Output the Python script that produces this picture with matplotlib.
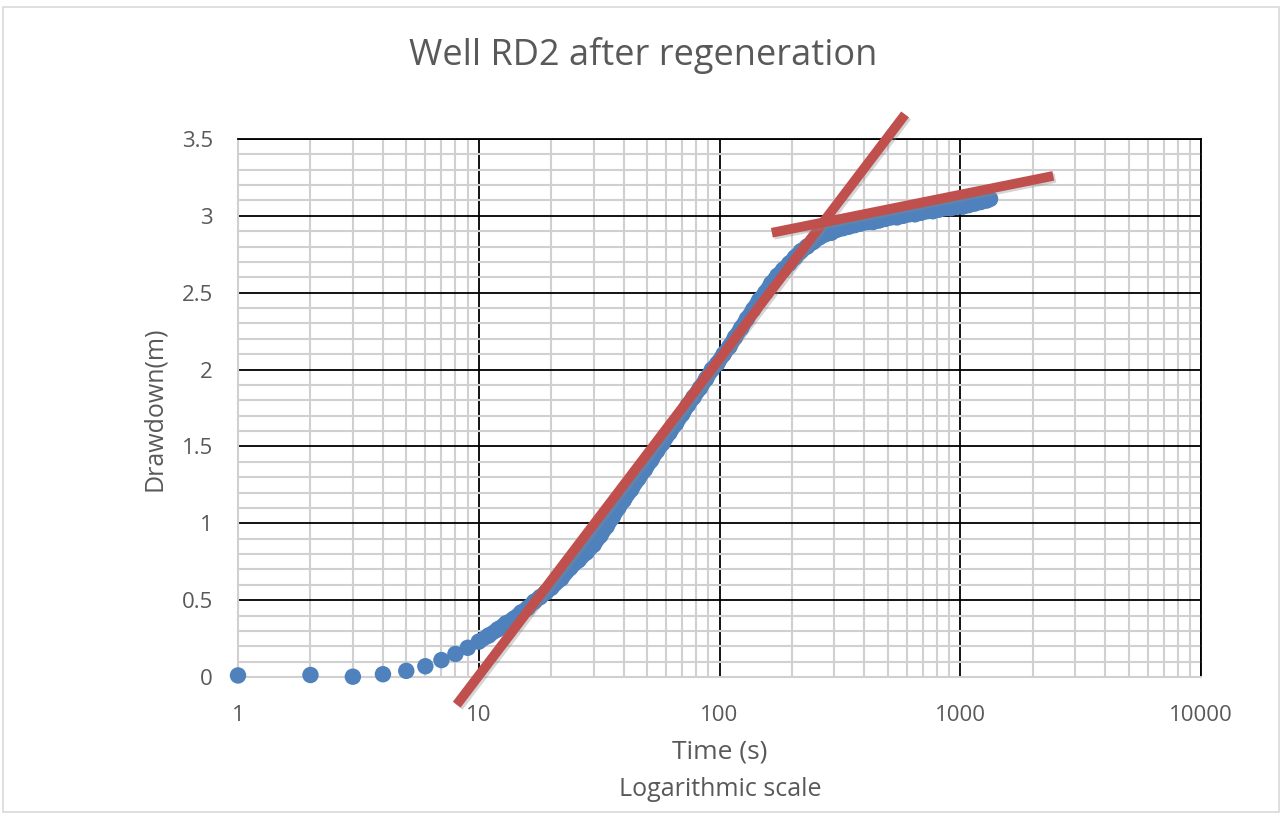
import matplotlib
matplotlib.use("Agg")
import matplotlib.pyplot as plt
from matplotlib.ticker import LogLocator, MultipleLocator, FixedLocator, FixedFormatter
from matplotlib.patches import Rectangle
import matplotlib.patheffects as pe

plt.rcParams["font.family"] = ["Open Sans", "DejaVu Sans"]

time_s = [1, 2, 3, 4, 5, 6, 7, 8, 9, 10, 11, 12, 13, 14, 15, 16, 17, 18, 19, 20,
          22, 24, 26, 28, 30, 32, 34, 36, 38, 40, 43, 46, 49, 52, 55, 58, 62, 66,
          70, 74, 78, 83, 88, 93, 98, 104, 110, 116, 123, 130, 138, 146, 155, 164,
          174, 184, 195, 206, 218, 231, 245, 260, 275, 291, 308, 326, 345, 365, 387,
          410, 434, 460, 487, 516, 546, 578, 612, 648, 686, 726, 769, 814, 862, 913,
          967, 1024, 1084, 1148, 1216, 1288, 1330]
drawdown_m = [0.01, 0.013, 0.002, 0.018, 0.04, 0.07, 0.11, 0.15, 0.19, 0.23, 0.27, 0.31,
              0.35, 0.38, 0.42, 0.45, 0.49, 0.52, 0.55, 0.58,
              0.64, 0.71, 0.76, 0.81, 0.86, 0.92, 0.98, 1.04, 1.10, 1.15, 1.22, 1.29,
              1.35, 1.41, 1.47, 1.52, 1.59, 1.65, 1.71, 1.77, 1.82, 1.88, 1.94, 2.00,
              2.04, 2.10, 2.15, 2.21, 2.27, 2.33, 2.39, 2.45, 2.50, 2.56, 2.61, 2.65,
              2.69, 2.73, 2.77, 2.80, 2.83, 2.86, 2.88, 2.89, 2.91, 2.92, 2.93, 2.94,
              2.95, 2.96, 2.96, 2.97, 2.98, 2.99, 2.99, 3.00, 3.01, 3.01, 3.02, 3.03,
              3.03, 3.04, 3.05, 3.05, 3.06, 3.06, 3.07, 3.08, 3.09, 3.10, 3.11]

# hand-drawn straight-line fits (start/end points)
fit1_t = [8.1, 590]
fit1_d = [-0.18, 3.66]
fit2_t = [165, 2435]
fit2_d = [2.89, 3.26]

x_ticks = [1, 10, 100, 1000, 10000]
x_tick_labels = ["1", "10", "100", "1000", "10000"]
y_ticks = [0, 0.5, 1, 1.5, 2, 2.5, 3, 3.5]
y_tick_labels = ["0", "0.5", "1", "1.5", "2", "2.5", "3", "3.5"]

TEXT = "#595959"
BLUE = "#4F81BD"
RED = "#C0504D"

fig = plt.figure(figsize=(12.83, 8.18), dpi=100)
ax = fig.add_axes([238 / 1283, 1 - 677 / 818, (1201 - 238) / 1283, (677 - 139) / 818])

ax.set_xscale("log")
ax.set_xlim(1, 10000)
ax.set_ylim(0, 3.5)

# grid
ax.xaxis.set_major_locator(FixedLocator(x_ticks))
ax.xaxis.set_major_formatter(FixedFormatter(x_tick_labels))
ax.xaxis.set_minor_locator(LogLocator(base=10, subs=range(2, 10), numticks=20))
ax.xaxis.set_minor_formatter(FixedFormatter([]))
ax.yaxis.set_major_locator(FixedLocator(y_ticks))
ax.yaxis.set_major_formatter(FixedFormatter(y_tick_labels))
ax.yaxis.set_minor_locator(MultipleLocator(0.1))
ax.grid(which="minor", color="#D0D0D0", linewidth=1.5, zorder=0)
ax.grid(which="major", color="black", linewidth=1.3, zorder=1)
ax.set_axisbelow(True)

for side in ["top", "right"]:
    ax.spines[side].set_color("black")
    ax.spines[side].set_linewidth(1.3)
for side in ["left", "bottom"]:
    ax.spines[side].set_color("#D0D0D0")
    ax.spines[side].set_linewidth(1.5)

ax.tick_params(which="both", length=0)
ax.tick_params(axis="x", pad=20, labelsize=16, labelcolor=TEXT)
ax.tick_params(axis="y", pad=18, labelsize=16, labelcolor=TEXT)

# data points; the dense part (t >= 10 s) merges into a band, so trace it with a
# line as wide as the markers to close the gaps between samples
ax.scatter(time_s, drawdown_m, s=140, color=BLUE, edgecolors="none", zorder=3, clip_on=False)
dense = time_s.index(10)
ax.plot(time_s[dense:], drawdown_m[dense:], color=BLUE, linewidth=11,
        solid_capstyle="round", solid_joinstyle="round", zorder=3)

shadow = [pe.SimpleLineShadow(offset=(1.5, -1.5), shadow_color="#888888", alpha=0.35), pe.Normal()]
ax.plot(fit1_t, fit1_d, color=RED, linewidth=7, solid_capstyle="butt", zorder=4,
        clip_on=False, path_effects=shadow)
ax.plot(fit2_t, fit2_d, color=RED, linewidth=7, solid_capstyle="butt", zorder=4,
        clip_on=False, path_effects=shadow)

fig.text(155 / 1283, 1 - 409 / 818, "Drawdown(m)", ha="center", va="center", rotation=90,
         fontsize=18, color=TEXT)
fig.text(720 / 1283, 1 - 752 / 818, "Time (s)", ha="center", va="center", fontsize=19, color=TEXT)
fig.text(720 / 1283, 1 - 790 / 818, "Logarithmic scale", ha="center", va="center", fontsize=18, color=TEXT)
fig.text(643 / 1283, 1 - 55 / 818, "Well RD2 after regeneration", ha="center", va="center",
         fontsize=26, color=TEXT)

# chart frame
fig.patches.append(Rectangle((3 / 1283, 1 - 812 / 818), 1276 / 1283, 805 / 818,
                             transform=fig.transFigure, fill=False, edgecolor="#D9D9D9",
                             linewidth=1.2))

fig.savefig("out.png", dpi=100)
